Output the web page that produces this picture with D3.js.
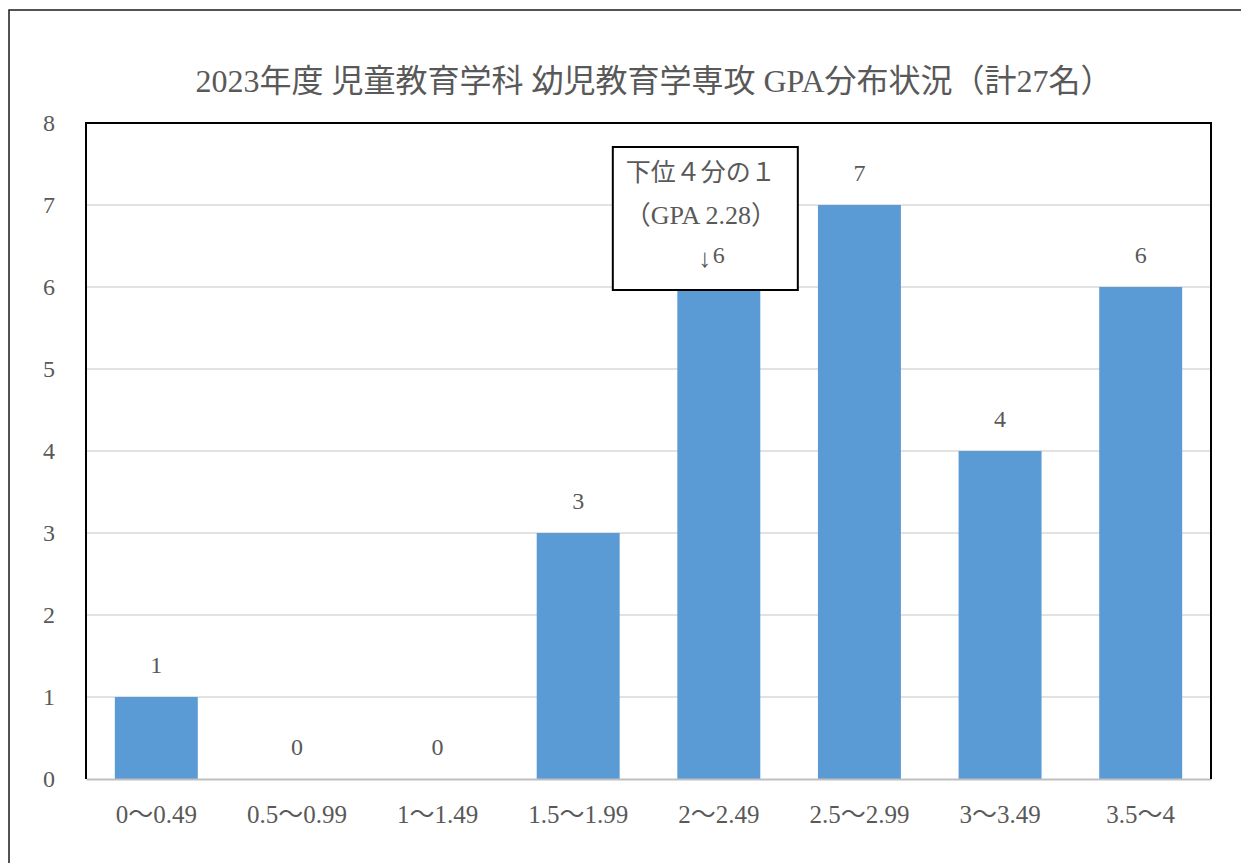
<!DOCTYPE html>
<html><head><meta charset="utf-8">
<script src="https://cdn.jsdelivr.net/npm/d3@7"></script>
<style>
html,body{margin:0;padding:0;background:#fff;}
text{font-family:"Liberation Serif","Noto Sans CJK JP",serif;fill:#595959;}
</style></head>
<body><svg id="c" width="1241" height="863"></svg>
<script>
const title = "2023年度 児童教育学科 幼児教育学専攻 GPA分布状況（計27名）";
const categories = ["0〜0.49","0.5〜0.99","1〜1.49","1.5〜1.99","2〜2.49","2.5〜2.99","3〜3.49","3.5〜4"];
const counts = [1,0,0,3,6,7,4,6];
const yTicks = [0,1,2,3,4,5,6,7,8];
const noteLines = ["下位４分の１","（GPA 2.28）","↓"];
const noteCategory = "2〜2.49";

const svg = d3.select("#c");
const L=86, R=1211, T=123, B=779;

// outer chart border
svg.append("rect").attr("x",9).attr("y",10).attr("width",1300).attr("height",900)
  .attr("fill","#fff").attr("stroke","#1a1a1a").attr("stroke-width",1.5);

const x = d3.scaleBand().domain(categories).range([L,R]).paddingInner(0.41).paddingOuter(0.205);
const y = d3.scaleLinear().domain([0,8]).range([B,T]);

// title
const tt = svg.append("text").attr("x",654).attr("y",92).attr("text-anchor","middle")
  .style("font-size","31px").text(title);
const tw = tt.node().getComputedTextLength();
if (tw > 0) tt.style("font-size", (31*916/tw).toFixed(1)+"px");

// gridlines
svg.append("g").selectAll("line").data(yTicks.filter(d=>d>0&&d<8)).join("line")
  .attr("x1",L).attr("x2",R).attr("y1",d=>y(d)).attr("y2",d=>y(d))
  .attr("stroke","#d9d9d9").attr("stroke-width",1.5);

// y axis labels
const ya = svg.append("g").attr("transform",`translate(${L},0)`)
  .call(d3.axisLeft(y).tickValues(yTicks).tickSize(0).tickPadding(37).tickFormat(d3.format("d")));
ya.select(".domain").remove();
ya.selectAll("text").style("font-size","24px").attr("fill","#595959").attr("text-anchor","middle");

// bars
svg.append("g").selectAll("rect").data(counts).join("rect")
  .attr("x",(d,i)=>x(categories[i])).attr("width",x.bandwidth())
  .attr("y",d=>y(d)).attr("height",d=>B-y(d)).attr("fill","#5b9bd5");

// x axis
const xa = svg.append("g").attr("transform",`translate(0,${B})`)
  .call(d3.axisBottom(x).tickSize(0).tickPadding(26));
xa.select(".domain").attr("stroke","#bfbfbf").attr("stroke-width",2);
xa.selectAll("text").style("font-size","25px").attr("fill","#595959");

// plot frame (left, top, right)
svg.append("path").attr("d",`M${L},${B}V${T}H${R}V${B}`).attr("fill","none")
  .attr("stroke","#000").attr("stroke-width",2);

// annotation box
const bx = x(noteCategory)+x.bandwidth()/2;
const g = svg.append("g");
g.append("rect").attr("x",bx-106).attr("y",147).attr("width",185).attr("height",143)
  .attr("fill","#fff").attr("stroke","#000").attr("stroke-width",2);
g.selectAll("text").data(noteLines).join("text")
  .attr("x",(d,i)=> i<2 ? bx-18 : bx-14).attr("y",(d,i)=>181+i*43)
  .attr("text-anchor","middle").style("font-size",(d,i)=> i===0 ? "25px" : "26px").text(d=>d);

// data labels
svg.append("g").selectAll("text").data(counts).join("text")
  .attr("x",(d,i)=>x(categories[i])+x.bandwidth()/2).attr("y",d=>y(d)-24)
  .attr("text-anchor","middle").style("font-size","24px").text(d=>d);
</script></body></html>
